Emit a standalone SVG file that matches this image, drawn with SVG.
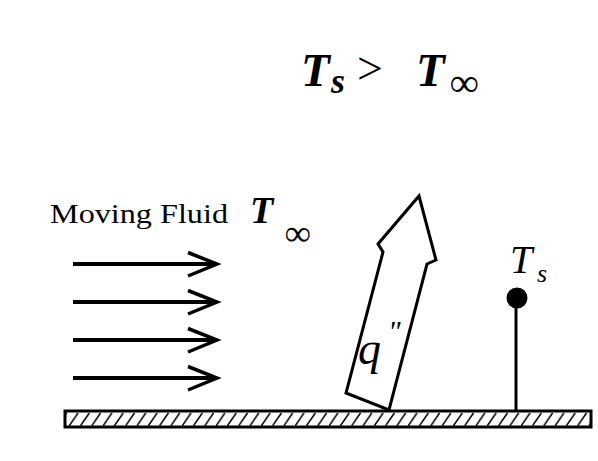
<svg xmlns="http://www.w3.org/2000/svg" width="598" height="461" viewBox="0 0 598 461">
  <style>
    text { font-family: "Liberation Serif", "Times New Roman", serif; fill: #000; }
    .bi { font-weight: bold; font-style: italic; }
    .it { font-style: italic; }
    .stk { fill: none; stroke: #000; }
  </style>
  <defs>
    <marker id="head" markerUnits="userSpaceOnUse" markerWidth="40" markerHeight="30" viewBox="0 0 40 30" refX="30" refY="15" orient="auto">
      <path d="M1,3.5 L30,15 L1,27" fill="none" stroke="#000" stroke-width="3.5" stroke-linejoin="miter"/>
    </marker>
    <pattern id="hatch" patternUnits="userSpaceOnUse" x="69" y="411" width="11.3" height="17">
      <line x1="0" y1="15" x2="9" y2="2" stroke="#000" stroke-width="1.5"/>
    </pattern>
  </defs>
  <rect width="598" height="461" fill="#fff"/>

  <g id="title">
    <text class="bi" x="301" y="86" font-size="47">T</text>
    <text class="bi" x="331" y="93" font-size="36">s</text>
    <text x="357" y="84" font-size="46">&gt;</text>
    <text class="bi" x="416" y="86" font-size="47">T</text>
    <text class="it" x="450" y="96" font-size="40">∞</text>
  </g>

  <g id="fluid-label">
    <text x="50" y="223" font-size="28" textLength="178" lengthAdjust="spacingAndGlyphs">Moving Fluid</text>
    <text class="bi" x="250" y="223" font-size="38">T</text>
    <text class="it" x="285" y="245" font-size="36">∞</text>
  </g>

  <g id="flow-arrows" class="stk" stroke-width="4">
    <line x1="73" y1="264" x2="217" y2="264" marker-end="url(#head)"/>
    <line x1="73" y1="302" x2="217" y2="302" marker-end="url(#head)"/>
    <line x1="73" y1="340" x2="217" y2="340" marker-end="url(#head)"/>
    <line x1="73" y1="378" x2="217" y2="378" marker-end="url(#head)"/>
  </g>

  <g id="heat-flux">
    <path class="stk" stroke-width="3" stroke-linejoin="miter" d="M419,196 L436,260 L427,264 L389,410 L346,393 L383,252 L378,244 Z"/>
    <text class="it" x="358" y="364" font-size="46">q<tspan x="388" y="341" font-size="30">"</tspan></text>
  </g>

  <g id="plate">
    <rect x="65" y="411" width="526" height="16" fill="url(#hatch)" stroke="#000" stroke-width="3"/>
  </g>

  <g id="probe">
    <line class="stk" x1="516" y1="298" x2="516" y2="411" stroke-width="3"/>
    <circle cx="517" cy="298" r="10.5" fill="#000"/>
    <text class="it" x="510" y="273" font-size="40">T</text>
    <text class="it" x="537" y="282" font-size="26">s</text>
  </g>
</svg>
